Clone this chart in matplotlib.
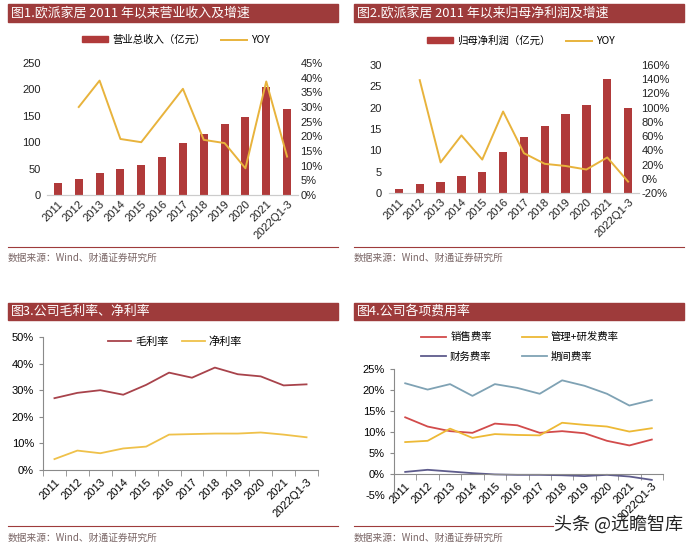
import matplotlib
matplotlib.use("Agg")
import matplotlib.pyplot as plt
import numpy as np
from matplotlib.patches import Rectangle, Patch
from matplotlib.lines import Line2D
from matplotlib.ticker import FuncFormatter

plt.rcParams['font.family'] = ['Liberation Sans', 'Noto Sans CJK SC']
plt.rcParams['axes.unicode_minus'] = False

#-------------------------------------------------------------------------------

years = ["2011", "2012", "2013", "2014", "2015", "2016", "2017", "2018",
         "2019", "2020", "2021", "2022Q1-3"]

# Fig 1: revenue (100m CNY) and YoY (%)
revenue = [23.4, 29.7, 41.0, 48.7, 57.6, 72.5, 97.6, 115.9, 135.3, 147.4, 204.4, 163.5]
revenue_yoy = [np.nan, 30.0, 39.0, 19.1, 18.0, 27.1, 36.2, 18.8, 17.7, 9.1, 38.7, 13.1]

# Fig 2: net profit attributable (100m CNY) and YoY (%)
profit = [1.0, 2.1, 2.5, 4.0, 5.0, 9.6, 13.1, 15.7, 18.4, 20.6, 26.7, 20.0]
profit_yoy = [np.nan, 138.7, 23.0, 61.0, 27.0, 94.6, 36.0, 21.0, 18.0, 13.0, 30.0, -4.0]

# Fig 3: margins (%)
gross_margin = [27.0, 29.0, 30.0, 28.3, 32.0, 36.6, 34.7, 38.5, 36.0, 35.2, 31.8, 32.2]
net_margin = [4.1, 7.3, 6.3, 8.1, 8.8, 13.3, 13.5, 13.7, 13.7, 14.1, 13.3, 12.3]

# Fig 4: expense ratios (%)
sales_rate = [13.5, 11.3, 10.2, 9.8, 12.0, 11.6, 9.8, 10.2, 9.7, 7.9, 6.8, 8.2]
admin_rd_rate = [7.6, 7.9, 10.8, 8.6, 9.5, 9.3, 9.2, 12.2, 11.7, 11.3, 10.1, 10.9]
finance_rate = [0.5, 1.0, 0.6, 0.2, -0.1, -0.2, -0.2, -0.3, -0.5, -0.2, -0.6, -1.4]
period_rate = [21.6, 20.1, 21.4, 18.6, 21.4, 20.5, 19.1, 22.3, 21.0, 19.1, 16.3, 17.6]

#-------------------------------------------------------------------------------

W, H = 700, 550
BANNER = "#9E3B3B"
BAR_RED = "#B03A3A"
GOLD = "#E8B33C"
AXIS_GRAY = "#8a8a8a"
SRC_COLOR = "#7a6666"
CJK = ['Noto Sans CJK SC', 'DejaVu Sans']

def px_axes(fig, x0, y0, x1, y1):
  """ Add axes from a pixel box (top-left origin). """
  return fig.add_axes([x0 / W, 1 - y1 / H, (x1 - x0) / W, (y1 - y0) / H])

def banner(fig, x0, y0, x1, y1, text):
  fig.patches.append(Rectangle((x0 / W, 1 - y1 / H), (x1 - x0) / W, (y1 - y0) / H,
                               transform=fig.transFigure, color=BANNER, zorder=0))
  fig.text((x0 + 3) / W, 1 - (y0 + y1) / 2 / H, text, color="white",
           fontsize=9.3, va="center", ha="left", family=CJK)

def source(fig, x0, x1, y_line, y_text):
  fig.add_artist(Line2D([x0 / W, x1 / W], [1 - y_line / H] * 2,
                        color=BANNER, lw=0.8, transform=fig.transFigure))
  fig.text(x0 / W, 1 - y_text / H, "数据来源：Wind、财通证券研究所",
           color=SRC_COLOR, fontsize=7, va="center", ha="left", family=CJK)

def pct(v, pos):
  return "{:.0f}%".format(v)

def style_bar_axes(ax, ax2):
  for a in (ax, ax2):
    for s in ["top", "left", "right"]:
      a.spines[s].set_visible(False)
    a.spines["bottom"].set_color("#cccccc")
    a.tick_params(length=0, labelsize=8, colors="#222222")
  ax.tick_params(axis="y", pad=5)
  ax2.tick_params(axis="y", pad=2)
  ax.set_xticks(range(len(years)))
  ax.set_xticklabels(years, rotation=45, ha="right", rotation_mode="anchor")
  ax.tick_params(axis="x", pad=3)
  ax.set_xlim(-0.5, len(years) - 0.5)

def style_line_axes(ax):
  for s in ["top", "right"]:
    ax.spines[s].set_visible(False)
  for s in ["left", "bottom"]:
    ax.spines[s].set_color(AXIS_GRAY)
    ax.spines[s].set_linewidth(0.8)
  ax.set_xlim(-0.5, len(years) - 0.5)
  ax.set_xticks(range(len(years)))
  ax.set_xticklabels(years, rotation=45, ha="right", rotation_mode="anchor")
  ax.set_xticks(np.arange(-0.5, len(years)), minor=True)
  ax.tick_params(axis="x", which="major", length=0, labelsize=8, pad=5)
  ax.tick_params(axis="x", which="minor", length=4, color=AXIS_GRAY, direction="out")
  ax.tick_params(axis="y", length=3, color=AXIS_GRAY, labelsize=8, direction="out")
  ax.yaxis.set_major_formatter(FuncFormatter(pct))

#-------------------------------------------------------------------------------

fig = plt.figure(figsize=(7, 5.5), dpi=100)
x = np.arange(len(years))

# Figure 1
banner(fig, 8, 4, 338, 22, "图1.欧派家居 2011 年以来营业收入及增速")
ax1 = px_axes(fig, 47.5, 63, 297.5, 195)
ax1b = ax1.twinx()
ax1.bar(x, revenue, width=0.38, color=BAR_RED, zorder=2)
ax1b.plot(x, revenue_yoy, color=GOLD, lw=1.4)
ax1.set_ylim(0, 250)
ax1.set_yticks(np.arange(0, 251, 50))
ax1b.set_ylim(0, 45)
ax1b.set_yticks(np.arange(0, 46, 5))
ax1b.yaxis.set_major_formatter(FuncFormatter(pct))
style_bar_axes(ax1, ax1b)
h1 = [Patch(color=BAR_RED), Line2D([], [], color=GOLD, lw=1.4)]
fig.legend(h1, ["营业总收入（亿元）", "YOY"], loc="center", ncol=2, frameon=False,
           bbox_to_anchor=(176 / W, 1 - 40 / H), handlelength=2.5,
           handleheight=0.5, handletextpad=0.35, columnspacing=1.5,
           prop={"family": CJK, "size": 7.5})
source(fig, 8, 338, 247, 258)

# Figure 2
banner(fig, 354, 4, 684, 22, "图2.欧派家居 2011 年以来归母净利润及增速")
ax2 = px_axes(fig, 388.5, 65, 638.5, 193)
ax2b = ax2.twinx()
ax2.bar(x, profit, width=0.4, color=BAR_RED, zorder=2)
ax2b.plot(x, profit_yoy, color=GOLD, lw=1.4)
ax2.set_ylim(0, 30)
ax2.set_yticks(np.arange(0, 31, 5))
ax2b.set_ylim(-20, 160)
ax2b.set_yticks(np.arange(-20, 161, 20))
ax2b.yaxis.set_major_formatter(FuncFormatter(pct))
style_bar_axes(ax2, ax2b)
h2 = [Patch(color=BAR_RED), Line2D([], [], color=GOLD, lw=1.4)]
fig.legend(h2, ["归母净利润（亿元）", "YOY"], loc="center", ncol=2, frameon=False,
           bbox_to_anchor=(521 / W, 1 - 41 / H), handlelength=2.5,
           handleheight=0.5, handletextpad=0.35, columnspacing=1.5,
           prop={"family": CJK, "size": 7.5})
source(fig, 354, 684, 247, 258)

# Figure 3
banner(fig, 8, 303, 338, 320, "图3.公司毛利率、净利率")
ax3 = px_axes(fig, 43, 337, 318, 470)
ax3.plot(x, gross_margin, color="#A8434B", lw=1.3, label="毛利率")
ax3.plot(x, net_margin, color="#EFC14A", lw=1.3, label="净利率")
ax3.set_ylim(0, 50)
ax3.set_yticks(np.arange(0, 51, 10))
style_line_axes(ax3)
fig.legend(*ax3.get_legend_handles_labels(), loc="center", ncol=2, frameon=False,
           bbox_to_anchor=(175 / W, 1 - 342 / H), handlelength=2.1,
           handletextpad=0.35, columnspacing=1.2, prop={"family": CJK, "size": 8})
source(fig, 8, 338, 526, 538)

# Figure 4
banner(fig, 354, 303, 684, 320, "图4.公司各项费用率")
ax4 = px_axes(fig, 394, 369, 663, 495)
ax4.spines["bottom"].set_position(("data", 0))
ax4.plot(x, sales_rate, color="#D24B4B", lw=1.3, label="销售费率")
ax4.plot(x, finance_rate, color="#5E5C8C", lw=1.3, label="财务费率")
ax4.plot(x, admin_rd_rate, color="#EDB935", lw=1.3, label="管理+研发费率")
ax4.plot(x, period_rate, color="#7FA2B4", lw=1.3, label="期间费率")
ax4.set_ylim(-5, 25)
ax4.set_yticks(np.arange(-5, 26, 5))
style_line_axes(ax4)
fig.legend(*ax4.get_legend_handles_labels(), loc="center", ncol=2, frameon=False,
           bbox_to_anchor=(520 / W, 1 - 347 / H), handlelength=2.4,
           handletextpad=0.4, columnspacing=2.9, labelspacing=0.9,
           prop={"family": CJK, "size": 7.5})
source(fig, 354, 553, 526, 538)
fig.text(618 / W, 1 - 524 / H, "头条 @远瞻智库", color="#222222", fontsize=13,
         ha="center", va="center", family=CJK)

fig.savefig("out.png", dpi=100)
